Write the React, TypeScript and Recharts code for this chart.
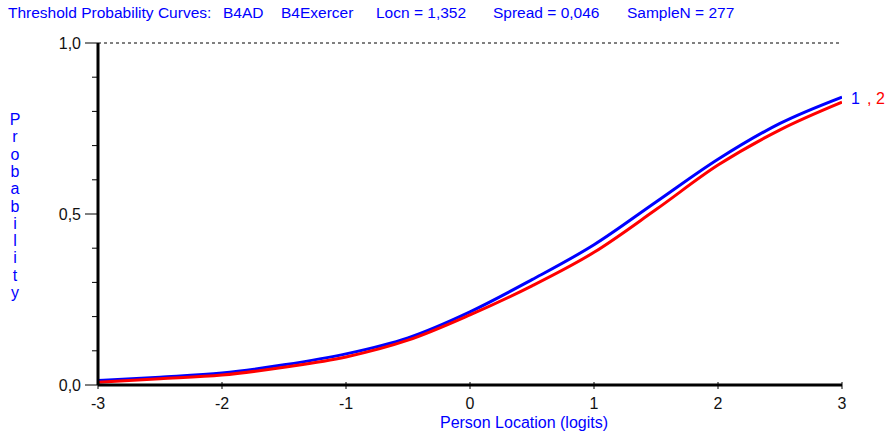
import { LineChart, Line, XAxis, YAxis, ReferenceLine } from "recharts";

// person location (logits)
const locations: number[] = [-3, -2.5, -2, -1.5, -1, -0.5, 0, 0.5, 1, 1.5, 2, 2.5, 3];
// threshold 1 (blue) and threshold 2 (red)
const threshold1: number[] = [0.013, 0.023, 0.035, 0.059, 0.091, 0.138, 0.214, 0.308, 0.41, 0.535, 0.66, 0.765, 0.842];
const threshold2: number[] = [0.008, 0.018, 0.029, 0.052, 0.082, 0.131, 0.205, 0.29, 0.388, 0.513, 0.643, 0.746, 0.827];

const xTicks: number[] = [-3, -2, -1, 0, 1, 2, 3];
const yTicks: number[] = [0, 0.1, 0.2, 0.3, 0.4, 0.5, 0.6, 0.7, 0.8, 0.9, 1];
const yLabels: number[] = [0, 0.5, 1];

const titleParts: { text: string; x: number }[] = [
  { text: "Threshold Probability Curves:", x: 8 },
  { text: "B4AD", x: 223 },
  { text: "B4Exercer", x: 281 },
  { text: "Locn = 1,352", x: 376 },
  { text: "Spread = 0,046", x: 493 },
  { text: "SampleN = 277", x: 627 },
];

const FONT = "'Liberation Sans', Arial, sans-serif";
const BLUE = "#0000ff";
const RED = "#ff0000";

const data = locations.map((x, i) => ({ x, p1: threshold1[i], p2: threshold2[i] }));
const last = locations.length - 1;

const fmt = (v: number) => v.toFixed(1).replace(".", ",");

const YTick = (props: any) => {
  const { x, y, payload } = props;
  const v = payload.value as number;
  const major = yLabels.some((m) => Math.abs(m - v) < 1e-6);
  return (
    <g>
      <line x1={x - (major ? 13 : 6)} x2={x} y1={y} y2={y} stroke="#000" strokeWidth={1} />
      {major && (
        <text x={x - 17} y={y} textAnchor="end" dominantBaseline="central" fontSize={16} fontFamily={FONT} fill="#111">
          {fmt(v)}
        </text>
      )}
    </g>
  );
};

const XTick = (props: any) => {
  const { x, y, payload } = props;
  return (
    <g>
      <line x1={x} x2={x} y1={y - 3} y2={y + 4} stroke="#000" strokeWidth={1} />
      <text x={x} y={y + 18} textAnchor="middle" dominantBaseline="central" fontSize={16} fontFamily={FONT} fill="#111">
        {payload.value}
      </text>
    </g>
  );
};

const EndLabel1 = (props: any) => {
  if (props.index !== last) return <g />;
  return (
    <text x={props.x + 9} y={props.y + 1} dominantBaseline="central" fontSize={16} fontFamily={FONT} fill={BLUE}>
      1
    </text>
  );
};

const EndLabel2 = (props: any) => {
  if (props.index !== last) return <g />;
  return (
    <text x={props.x + 25} y={props.y - 4} dominantBaseline="central" fontSize={16} fontFamily={FONT} fill={RED}>
      , 2
    </text>
  );
};

const App = () => {
  return (
    <div style={{ position: "absolute", left: 0, top: 0, width: 888, height: 436, background: "#fff" }}>
      {titleParts.map((t) => (
        <div
          key={t.text}
          style={{
            position: "absolute",
            left: t.x,
            top: 4,
            fontFamily: FONT,
            fontSize: 15.5,
            lineHeight: "18px",
            color: BLUE,
            whiteSpace: "nowrap",
          }}
        >
          {t.text}
        </div>
      ))}

      <svg width={40} height={436} style={{ position: "absolute", left: 0, top: 0 }}>
        {"Probability".split("").map((ch, i) => (
          <text key={i} x={15} y={125 + i * 17.3} textAnchor="middle" fontSize={16} fontFamily={FONT} fill={BLUE}>
            {ch}
          </text>
        ))}
      </svg>

      <div
        style={{
          position: "absolute",
          left: 0,
          width: 1048,
          top: 414,
          textAlign: "center",
          fontFamily: FONT,
          fontSize: 16,
          lineHeight: "18px",
          color: BLUE,
        }}
      >
        Person Location (logits)
      </div>

      <div style={{ position: "absolute", left: 0, top: 0 }}>
        <LineChart width={888} height={436} data={data} margin={{ top: 43, right: 46, bottom: 0, left: 0 }}>
          <XAxis
            type="number"
            dataKey="x"
            domain={[-3, 3]}
            ticks={xTicks}
            height={51}
            tickSize={0}
            tickMargin={0}
            tickLine={false}
            tick={<XTick />}
            axisLine={{ stroke: "#000", strokeWidth: 3 }}
            allowDataOverflow
          />
          <YAxis
            type="number"
            domain={[0, 1]}
            ticks={yTicks}
            width={98}
            tickSize={0}
            tickMargin={0}
            tickLine={false}
            tick={<YTick />}
            axisLine={{ stroke: "#000", strokeWidth: 3 }}
            interval={0}
          />
          <ReferenceLine y={1} stroke="#000" strokeWidth={1} strokeDasharray="3 3" />
          <Line
            type="monotone"
            dataKey="p1"
            stroke={BLUE}
            strokeWidth={3}
            dot={false}
            isAnimationActive={false}
            label={<EndLabel1 />}
          />
          <Line
            type="monotone"
            dataKey="p2"
            stroke={RED}
            strokeWidth={3}
            dot={false}
            isAnimationActive={false}
            label={<EndLabel2 />}
          />
        </LineChart>
      </div>
    </div>
  );
};

export default App;
